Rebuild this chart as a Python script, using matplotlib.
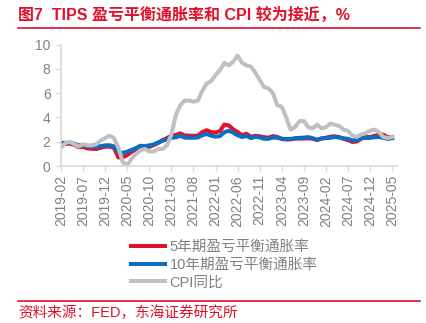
import matplotlib
matplotlib.use("Agg")
import matplotlib.pyplot as plt
from matplotlib.lines import Line2D
import numpy as np
import pandas as pd

months = pd.period_range("2019-02", "2025-05", freq="M").strftime("%Y-%m").tolist()

be5 = [1.83, 1.82, 1.84, 1.75, 1.55, 1.58, 1.45, 1.42, 1.40, 1.50, 1.60,
       1.60, 1.50, 0.70, 0.72, 0.90, 1.17, 1.36, 1.55, 1.54, 1.58, 1.72, 1.90,
       2.14, 2.30, 2.51, 2.56, 2.69, 2.52, 2.51, 2.49, 2.50, 2.80, 2.95, 2.80,
       2.76, 2.88, 3.42, 3.35, 3.02, 2.80, 2.53, 2.66, 2.41, 2.49, 2.45, 2.38,
       2.33, 2.47, 2.40, 2.22, 2.19, 2.19, 2.26, 2.26, 2.27, 2.28, 2.25, 2.14,
       2.26, 2.33, 2.42, 2.45, 2.38, 2.24, 2.13, 1.98, 2.02, 2.25, 2.40, 2.39,
       2.49, 2.56, 2.59, 2.36, 2.39]

be10 = [1.91, 1.91, 1.92, 1.84, 1.70, 1.73, 1.63, 1.61, 1.59, 1.64, 1.70,
        1.71, 1.62, 1.09, 1.09, 1.18, 1.33, 1.48, 1.67, 1.64, 1.70, 1.78, 1.94,
        2.08, 2.19, 2.33, 2.36, 2.49, 2.34, 2.33, 2.33, 2.35, 2.53, 2.64, 2.50,
        2.42, 2.46, 2.79, 2.90, 2.75, 2.53, 2.39, 2.48, 2.30, 2.41, 2.36, 2.24,
        2.24, 2.35, 2.32, 2.25, 2.21, 2.23, 2.29, 2.32, 2.34, 2.38, 2.29, 2.17,
        2.28, 2.30, 2.32, 2.39, 2.35, 2.28, 2.24, 2.10, 2.16, 2.29, 2.32, 2.32,
        2.37, 2.39, 2.33, 2.23, 2.29]

cpi = [1.5, 1.9, 2.0, 1.8, 1.6, 1.8, 1.7, 1.7, 1.8, 2.1, 2.3,
       2.5, 2.3, 1.5, 0.3, 0.1, 0.6, 1.0, 1.3, 1.4, 1.2, 1.2, 1.4,
       1.4, 1.7, 2.6, 4.2, 5.0, 5.4, 5.4, 5.3, 5.4, 6.2, 6.8, 7.0,
       7.5, 7.9, 8.5, 8.3, 8.6, 9.1, 8.5, 8.3, 8.2, 7.7, 7.1, 6.5,
       6.4, 6.0, 5.0, 4.9, 4.0, 3.0, 3.2, 3.7, 3.7, 3.2, 3.1, 3.4,
       3.1, 3.2, 3.5, 3.4, 3.3, 3.0, 2.9, 2.5, 2.4, 2.6, 2.7, 2.9,
       3.0, 2.8, 2.4, 2.3, 2.4]

labels = ["5年期盈亏平衡通胀率", "10年期盈亏平衡通胀率", "CPI同比"]
title = "图7  TIPS 盈亏平衡通胀率和 CPI 较为接近，%"
source = "资料来源：FED，东海证券研究所"

RED = "#e0112b"
BLUE = "#0a6fc2"
GRAY = "#c0c0c0"
TXT = "#808080"
SPINE = "#d9d9d9"

W, H = 427, 323
fig = plt.figure(figsize=(W / 100, H / 100), dpi=100)
ax = fig.add_axes([61 / W, 1 - 166 / H, 336 / W, (166 - 44.7) / H])

x = np.arange(len(months))
ax.plot(x, be5, color=RED, lw=2.9, label=labels[0], solid_joinstyle="round")
ax.plot(x, be10, color=BLUE, lw=2.9, label=labels[1], solid_joinstyle="round")
ax.plot(x, cpi, color=GRAY, lw=2.9, label=labels[2], solid_joinstyle="round")

ax.set_xlim(0, 76.1)
ax.set_ylim(0, 10)
ax.set_yticks(range(0, 11, 2))
ax.set_xticks(x[::5])
ax.set_xticklabels(months[::5], rotation=90)
for s in ["top", "right"]:
    ax.spines[s].set_visible(False)
for s in ["left", "bottom"]:
    ax.spines[s].set_color(SPINE)
    ax.spines[s].set_linewidth(1.2)
ax.tick_params(axis="both", colors=SPINE, labelcolor=TXT, labelsize=10,
               length=3.5, width=1.0)
ax.tick_params(axis="x", pad=3)
ax.tick_params(axis="y", pad=4)
for t in ax.get_xticklabels() + ax.get_yticklabels():
    t.set_fontfamily("Liberation Sans")

fam = ["Liberation Sans", "Noto Sans CJK SC"]
leg = fig.legend(loc="upper left", bbox_to_anchor=(131 / W, 1 - 240 / H),
                 frameon=False, borderaxespad=0, borderpad=0,
                 handlelength=2.35, handletextpad=0.3, labelspacing=0.25,
                 prop={"family": fam, "size": 10.5})
for t in leg.get_texts():
    t.set_color(TXT)

fig.text(18 / W, 1 - 15 / H, title, color=RED, fontsize=11.5, fontweight="bold",
         family=["Liberation Sans", "Noto Sans CJK SC"], va="center", ha="left")
fig.add_artist(Line2D([18 / W, 420 / W], [1 - 27.7 / H] * 2, color=RED, lw=1.2,
                      transform=fig.transFigure))
fig.add_artist(Line2D([18 / W, 420 / W], [1 - 300.7 / H] * 2, color=RED, lw=1.2,
                      transform=fig.transFigure))
fig.text(18 / W, 1 - 312.7 / H, source, color=RED, fontsize=10.5,
         family=["Liberation Sans", "Noto Sans CJK SC"], va="center", ha="left")

fig.savefig("out.png", dpi=100)
